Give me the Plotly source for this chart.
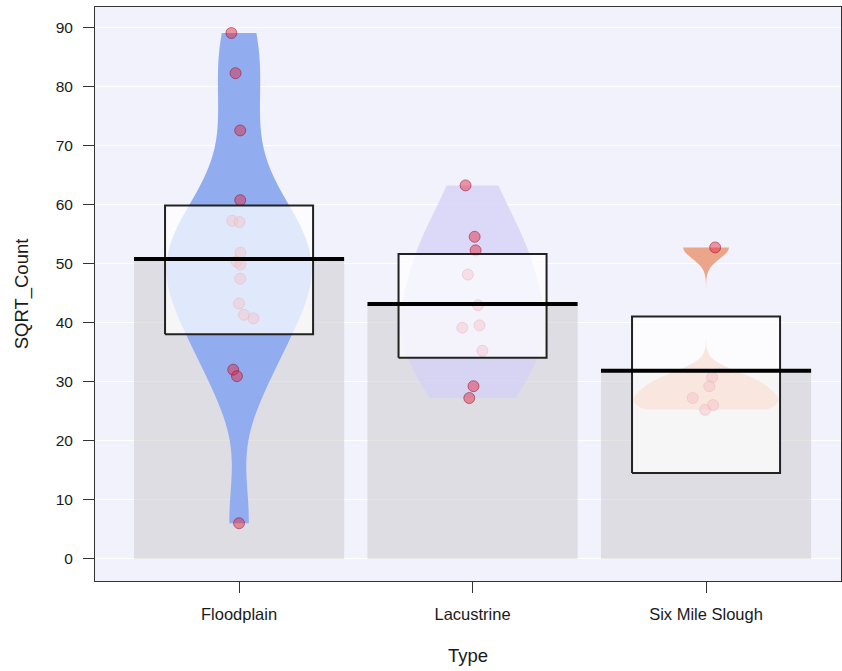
import numpy as np
import plotly.graph_objects as go

# ---- data ----
categories = ["Floodplain", "Lacustrine", "Six Mile Slough"]
floodplain = [89.0, 82.2, 72.5, 60.7, 57.2, 57.0, 51.8, 50.3, 49.8, 47.4,
              43.2, 41.3, 40.7, 32.0, 30.9, 6.0]
lacustrine = [63.2, 54.5, 52.2, 48.1, 42.9, 39.1, 39.5, 35.2, 29.2, 27.2]
six_mile = [52.7, 30.7, 29.2, 27.2, 26.0, 25.2]
# inference band (box) limits
box_lo = [38.0, 34.0, 14.5]
box_hi = [59.8, 51.6, 41.0]
y_ticks = [0, 10, 20, 30, 40, 50, 60, 70, 80, 90]

# ---- style ----
jitter = [
    [-0.033, -0.015, 0.005, 0.005, -0.029, 0.002, 0.006, -0.011, 0.006, 0.005,
     0.0, 0.021, 0.062, -0.025, -0.009, 0.0],
    [-0.03, 0.009, 0.013, -0.02, 0.023, -0.044, 0.03, 0.042, 0.004, -0.014],
    [0.039, 0.026, 0.014, -0.057, 0.03, -0.004],
]
bw_adjust = [1.2, 1.0, 1.0]
bean_colors = ["rgb(145,173,240)", "rgba(214,210,246,0.8)", "rgb(234,165,138)"]
bar_color = "rgba(200,200,202,0.5)"
bg_color = "rgb(242,242,252)"
font_family = "Liberation Sans, Arial, sans-serif"
text_color = "#1a1a1a"

groups = [floodplain, lacustrine, six_mile]
positions = [1, 2, 3]
means = [float(np.mean(g)) for g in groups]


def bw_nrd0(v):
    v = np.asarray(v, float)
    sd = np.std(v, ddof=1)
    iqr = np.percentile(v, 75) - np.percentile(v, 25)
    lo = min(sd, iqr / 1.34)
    return 0.9 * lo * len(v) ** -0.2


fig = go.Figure()

# bars (mean)
fig.add_trace(go.Bar(x=positions, y=means, width=0.9, marker_color=bar_color,
                     marker_line_width=0, showlegend=False, hoverinfo="skip"))

# beans
for pos, vals, col, adj in zip(positions, groups, bean_colors, bw_adjust):
    fig.add_trace(go.Violin(x0=pos, y=vals, width=0.62, spanmode="hard",
                            bandwidth=bw_nrd0(vals) * adj, scalemode="width",
                            fillcolor=col, line=dict(width=0, color="rgba(0,0,0,0)"),
                            points=False, box_visible=False, meanline_visible=False,
                            showlegend=False, hoverinfo="skip", name=categories[pos - 1]))

# points
for pos, vals, jit in zip(positions, groups, jitter):
    fig.add_trace(go.Scatter(x=[pos + j for j in jit], y=vals, mode="markers",
                             marker=dict(size=11, color="rgba(228,30,55,0.45)",
                                         line=dict(width=1, color="rgba(140,10,35,0.5)")),
                             showlegend=False, hoverinfo="skip"))

# inference boxes
bw_box = 0.634
for pos, lo, hi in zip(positions, box_lo, box_hi):
    fig.add_trace(go.Scatter(
        x=[pos - bw_box / 2, pos + bw_box / 2, pos + bw_box / 2, pos - bw_box / 2, pos - bw_box / 2],
        y=[lo, lo, hi, hi, lo], mode="lines", fill="toself",
        fillcolor="rgba(255,255,255,0.72)", line=dict(color="#222222", width=2),
        showlegend=False, hoverinfo="skip"))

# mean lines
for pos, m in zip(positions, means):
    fig.add_trace(go.Scatter(x=[pos - 0.45, pos + 0.45], y=[m, m], mode="lines",
                             line=dict(color="black", width=4),
                             showlegend=False, hoverinfo="skip"))

fig.update_layout(
    width=842, height=671,
    margin=dict(l=95, r=1, t=7, b=90),
    paper_bgcolor="white", plot_bgcolor=bg_color,
    violinmode="overlay", barmode="overlay",
    font=dict(family=font_family, color=text_color, size=15),
    showlegend=False,
)
fig.update_xaxes(range=[0.383, 3.578], tickvals=positions, ticktext=categories,
                 showgrid=False, zeroline=False, showline=True, mirror=True,
                 linecolor="#333333", linewidth=1, ticks="outside", ticklen=11,
                 tickcolor="#333333", tickfont=dict(size=16.5), ticklabelstandoff=7,
                 title=dict(text="Type", font=dict(size=18.5), standoff=27))
fig.update_yaxes(range=[-3.78, 93.4], tickvals=y_ticks,
                 showgrid=True, gridcolor="white", gridwidth=1, zeroline=False,
                 showline=True, mirror=True, linecolor="#333333", linewidth=1,
                 ticks="outside", ticklen=11, tickcolor="#333333",
                 tickfont=dict(size=15.5), ticklabelstandoff=7,
                 title=dict(text="SQRT_Count", font=dict(size=18.5), standoff=22))

fig.write_html("out.html", config={"displayModeBar": False},
               post_script="document.body.style.margin='0';document.body.style.padding='0';")
